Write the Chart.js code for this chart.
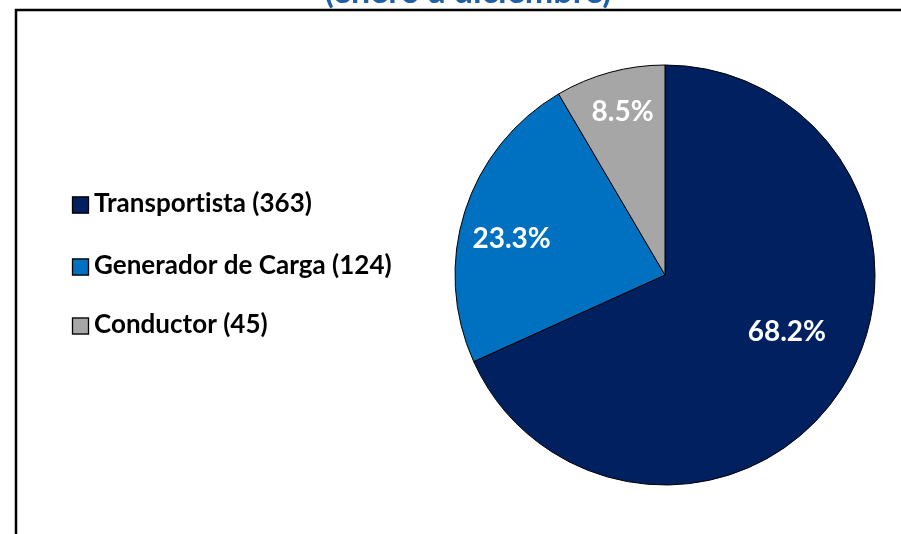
<!DOCTYPE html>
<html><head><meta charset="utf-8">
<script src="https://cdn.jsdelivr.net/npm/chart.js@4"></script>
<style>
html,body{margin:0;padding:0;background:#fff;}
#wrap{position:relative;width:901px;height:534px;overflow:hidden;background:#fff;}
#c{position:absolute;left:0;top:-30px;font-variant-ligatures:none;}
</style></head><body>
<div id="wrap"><canvas id="c" width="901" height="600"></canvas></div>
<script>
// ---- data ----
const categories = ['Transportista', 'Generador de Carga', 'Conductor'];
const counts = [363, 124, 45];
const percentLabels = ['68.2%', '23.3%', '8.5%'];
const titleText = '(enero a diciembre)';
const legendLabels = categories.map((c, i) => c + ' (' + counts[i] + ')');

// ---- styles ----
const sliceColors = ['#002060', '#0070C0', '#A6A6A6'];
const SHIFT = 30; // canvas is moved up by this many pixels
const FONT = 'Lato, "Open Sans", sans-serif';

function noLig(ctx) {
  if ('letterSpacing' in ctx) ctx.letterSpacing = '0.02px';
  if ('textRendering' in ctx) ctx.textRendering = 'optimizeSpeed';
}

const framePlugin = {
  id: 'frame',
  beforeDraw(chart) {
    const ctx = chart.ctx;
    ctx.save();
    ctx.fillStyle = '#fff';
    ctx.fillRect(0, 0, chart.width, chart.height);
    ctx.strokeStyle = '#000';
    ctx.lineWidth = 2.5;
    ctx.beginPath();
    ctx.moveTo(16, chart.height);
    ctx.lineTo(16, 10 + SHIFT);
    ctx.lineTo(chart.width + 5, 10 + SHIFT);
    ctx.stroke();
    ctx.restore();
  }
};

const titlePlugin = {
  id: 'topTitle',
  afterDraw(chart, args, opts) {
    const ctx = chart.ctx;
    ctx.save();
    ctx.font = 'bold ' + opts.fontSize + 'px ' + FONT;
    ctx.fillStyle = opts.color;
    ctx.textAlign = 'center';
    ctx.textBaseline = 'alphabetic';
    ctx.fillText(titleText, opts.x, opts.baseline + SHIFT);
    ctx.restore();
  }
};

const legendPlugin = {
  id: 'sideLegend',
  afterDraw(chart, args, opts) {
    const ctx = chart.ctx;
    ctx.save();
    ctx.font = 'bold ' + opts.fontSize + 'px ' + FONT;
    noLig(ctx);
    ctx.textBaseline = 'middle';
    ctx.textAlign = 'left';
    chart.data.labels.forEach((lab, i) => {
      const y = opts.rows[i] + SHIFT;
      const s = opts.box;
      ctx.fillStyle = sliceColors[i];
      ctx.fillRect(opts.x, y - s / 2 + opts.boxDy, s, s);
      ctx.strokeStyle = '#000';
      ctx.lineWidth = 1.3;
      ctx.strokeRect(opts.x + 0.5, y - s / 2 + opts.boxDy + 0.5, s - 1, s - 1);
      ctx.fillStyle = '#000';
      ctx.fillText(legendLabels[i], opts.x + s + 5, y);
    });
    ctx.restore();
  }
};

const sliceLabelPlugin = {
  id: 'sliceLabels',
  afterDatasetsDraw(chart, args, opts) {
    const ctx = chart.ctx;
    const meta = chart.getDatasetMeta(0);
    ctx.save();
    ctx.font = 'bold ' + opts.fontSize + 'px ' + FONT;
    ctx.fillStyle = '#fff';
    ctx.textAlign = 'center';
    ctx.textBaseline = 'middle';
    meta.data.forEach((arc, i) => {
      const p = arc.getProps(['x', 'y', 'startAngle', 'endAngle', 'outerRadius'], true);
      const a = p.startAngle + opts.angleFrac[i] * (p.endAngle - p.startAngle);
      const r = p.outerRadius * opts.radiusFrac[i];
      ctx.fillText(percentLabels[i], p.x + Math.cos(a) * r, p.y + Math.sin(a) * r);
    });
    ctx.restore();
  }
};

new Chart(document.getElementById('c'), {
  type: 'pie',
  data: {
    labels: categories,
    datasets: [{
      data: counts,
      backgroundColor: sliceColors,
      borderColor: '#000',
      borderWidth: 1,
      radius: 210,
      hoverOffset: 0
    }]
  },
  options: {
    responsive: false,
    animation: false,
    devicePixelRatio: 1,
    layout: { padding: { left: 440, right: 11, top: 30, bottom: 20 } },
    plugins: {
      legend: { display: false },
      tooltip: { enabled: false },
      title: { display: false },
      topTitle: { x: 468, baseline: 3, fontSize: 34, color: '#1F5FA5' },
      sideLegend: { x: 72, rows: [204, 266, 325], fontSize: 26, box: 17, boxDy: 1 },
      sliceLabels: {
        fontSize: 28,
        angleFrac: [0.468, 0.447, 0.52],
        radiusFrac: [0.64, 0.75, 0.80]
      }
    }
  },
  plugins: [framePlugin, legendPlugin, sliceLabelPlugin, titlePlugin]
});
</script>
</body></html>
